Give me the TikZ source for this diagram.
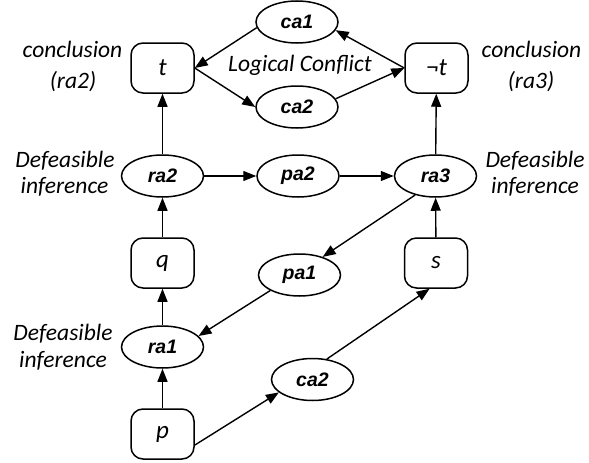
\documentclass[tikz,border=0pt]{standalone}
\usepackage{fontspec}
\setmainfont{Carlito}
\newfontfamily\labfont{Liberation Sans}
\usetikzlibrary{shapes.geometric,arrows.meta}
\tikzset{
  ell/.style={draw, line width=1.5pt, ellipse, minimum width=82pt, minimum height=42pt, inner sep=0pt,
    font=\labfont\bfseries\itshape\fontsize{19.5}{22}\selectfont},
  bx/.style={draw, line width=1.5pt, rectangle, rounded corners=12pt, minimum width=63pt, minimum height=50pt, inner sep=0pt,
    font=\itshape\fontsize{25}{28}\selectfont},
  lbl/.style={anchor=base, inner sep=0pt, font=\itshape\fontsize{23.5}{26}\selectfont},
  arr/.style={line width=1.4pt, -{Triangle[length=13pt,width=10pt]}}
}
\begin{document}
\begin{tikzpicture}[x=1pt,y=-1pt]
\useasboundingbox (0,0) rectangle (589,463);
% nodes
\node[ell] (ca1) at (297,22) {ca1};
\node[bx] (t) at (162.5,68) {t};
\node[bx] (nt) at (436.5,68) {¬t};
\node[ell] (ca2t) at (297,107) {ca2};
\node[lbl] (lc) at (300,71) {Logical Conflict};
\node[ell] (ra2) at (162.5,176) {ra2};
\node[ell] (pa2) at (298,176) {pa2};
\node[ell] (ra3) at (435.5,176) {ra3};
\node[bx] (q) at (162.5,263) {q};
\node[bx] (s) at (436,263) {s};
\node[ell] (pa1) at (299.5,275) {pa1};
\node[ell] (ra1) at (162.5,347) {ra1};
\node[ell] (ca2b) at (312.5,379.5) {ca2};
\node[bx] (p) at (162.5,434) {p};
% labels
\node[lbl] (c2a) at (72.5,57) {conclusion};
\node[lbl] (c2b) at (73,88) {(ra2)};
\node[lbl] (c3a) at (531.5,57) {conclusion};
\node[lbl] (c3b) at (531,88) {(ra3)};
\node[lbl] (d2a) at (65,167) {Defeasible};
\node[lbl] (d2b) at (64.5,193) {inference};
\node[lbl] (d3a) at (535,167) {Defeasible};
\node[lbl] (d3b) at (535,193) {inference};
\node[lbl] (d1a) at (63,340) {Defeasible};
\node[lbl] (d1b) at (63,367) {inference};
% edges
\draw[arr] (ca1.188) -- (t.east);
\draw[arr] (t.east) -- (ca2t.west);
\draw[arr] (ca2t.12) -- (nt.west);
\draw[arr] (nt.west) -- (ca1.348);
\draw[arr] (ra2) -- (t);
\draw[arr] (q) -- (ra2);
\draw[arr] (ra1) -- (q);
\draw[arr] (p) -- (ra1);
\draw[arr] (ra3) -- (nt);
\draw[arr] (s) -- (ra3);
\draw[arr] (ra2) -- (pa2);
\draw[arr] (pa2) -- (ra3);
\draw[arr] (ra3.223) -- (pa1.38);
\draw[arr] (pa1.208) -- (ra1.17);
\draw[arr] (p.-19) -- (ca2b.201);
\draw[arr] (ca2b.55) -- (s.256);
\end{tikzpicture}
\end{document}
